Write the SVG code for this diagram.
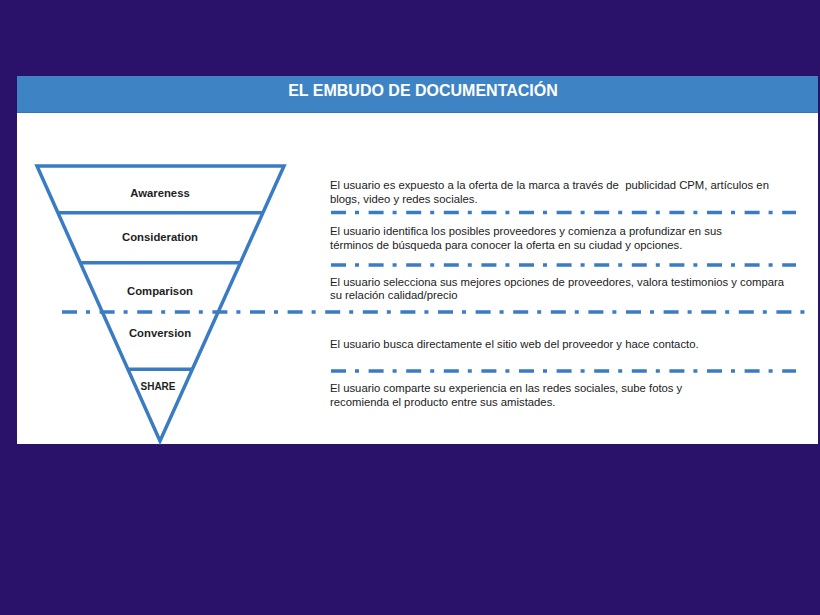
<svg xmlns="http://www.w3.org/2000/svg" width="820" height="615" viewBox="0 0 820 615">
<style>
.funnel{fill:none;stroke:#3a7cc3;stroke-width:3.5;stroke-linejoin:miter}
.sep{fill:none;stroke:#3a7cc3;stroke-width:3.5;stroke-dasharray:15 9 4 9.6}
.lbl{font-family:"Liberation Sans",Arial,sans-serif;font-weight:bold;font-size:11.3px;fill:#1e1e1e;text-anchor:middle}
.txt{font-family:"Liberation Sans",Arial,sans-serif;font-size:11.3px;fill:#222222;white-space:pre}
.title{font-family:"Liberation Sans",Arial,sans-serif;font-weight:bold;font-size:16px;fill:#ffffff;text-anchor:middle}
</style>
<rect width="820" height="615" fill="#2a126a"/>
<g id="panel">
<rect x="17" y="76" width="801" height="368" fill="#ffffff"/>
<rect x="17" y="76" width="801" height="37" fill="#3e84c5"/>
<line x1="17" y1="112.5" x2="818" y2="112.5" stroke="#3576b8" stroke-width="1"/>
<text class="title" x="423" y="96">EL EMBUDO DE DOCUMENTACIÓN</text>
</g>
<g id="connectors">
<line class="sep" x1="331" y1="212.5" x2="796" y2="212.5"/>
<line class="sep" x1="331" y1="265" x2="796" y2="265"/>
<line class="sep" x1="62" y1="312" x2="805" y2="312"/>
<line class="sep" x1="331" y1="371" x2="796" y2="371"/>
</g>
<g id="funnel">
<polygon class="funnel" points="37,166 284,166 160,441"/>
<line class="funnel" x1="58" y1="212.7" x2="262" y2="212.7"/>
<line class="funnel" x1="81" y1="262.7" x2="240" y2="262.7"/>
<line class="funnel" x1="127.5" y1="369.3" x2="192" y2="369.3"/>
</g>
<g id="node-awareness">
<text class="lbl" x="160" y="197">Awareness</text>
<text class="txt" x="330" y="189" xml:space="preserve">El usuario es expuesto a la oferta de la marca a través de  publicidad CPM, artículos en</text>
<text class="txt" x="330" y="202.5">blogs, video y redes sociales.</text>
</g>
<g id="node-consideration">
<text class="lbl" x="160" y="241">Consideration</text>
<text class="txt" x="330" y="235">El usuario identifica los posibles proveedores y comienza a profundizar en sus</text>
<text class="txt" x="330" y="248.5">términos de búsqueda para conocer la oferta en su ciudad y opciones.</text>
</g>
<g id="node-comparison">
<text class="lbl" x="160" y="295">Comparison</text>
<text class="txt" x="330" y="286">El usuario selecciona sus mejores opciones de proveedores, valora testimonios y compara</text>
<text class="txt" x="330" y="299">su relación calidad/precio</text>
</g>
<g id="node-conversion">
<text class="lbl" x="160" y="337">Conversion</text>
<text class="txt" x="330" y="348">El usuario busca directamente el sitio web del proveedor y hace contacto.</text>
</g>
<g id="node-share">
<text class="lbl" x="158" y="390" style="font-size:10px">SHARE</text>
<text class="txt" x="330" y="392">El usuario comparte su experiencia en las redes sociales, sube fotos y</text>
<text class="txt" x="330" y="405.5">recomienda el producto entre sus amistades.</text>
</g>
</svg>
